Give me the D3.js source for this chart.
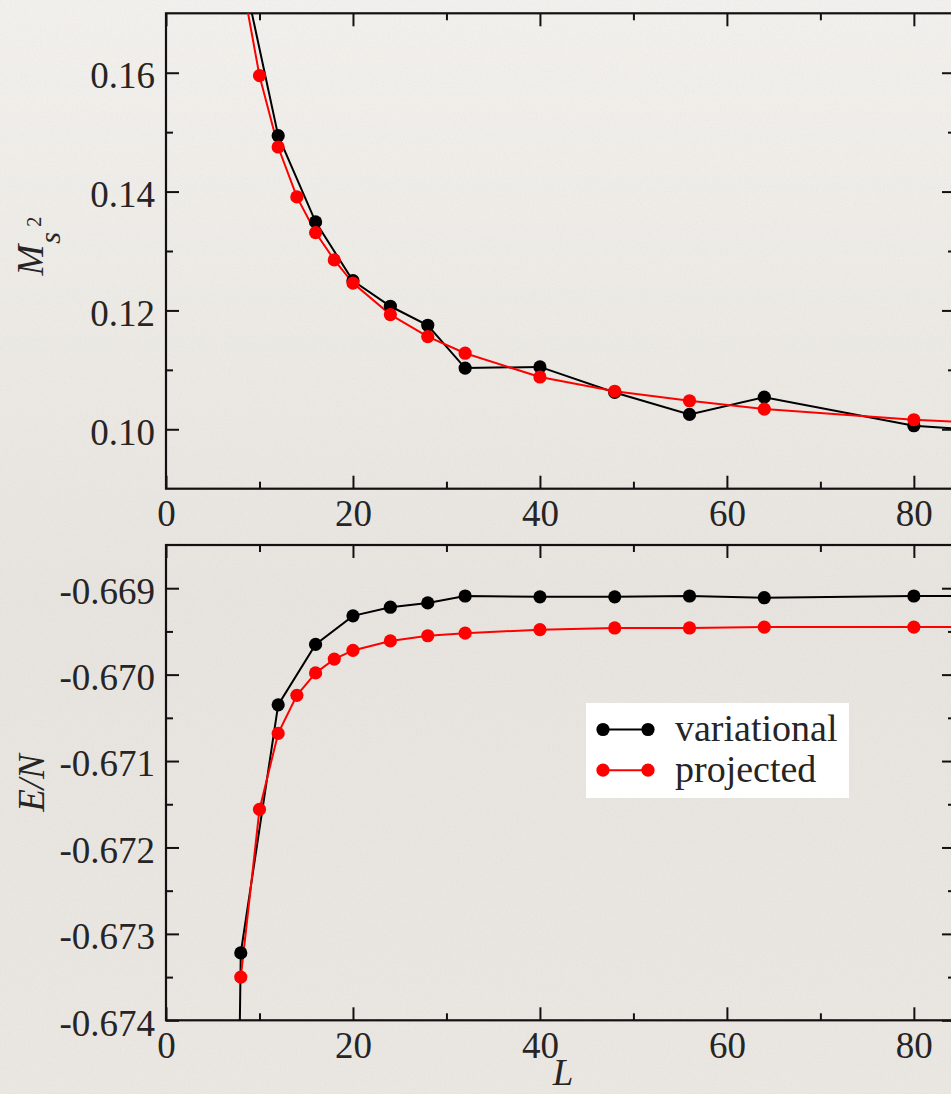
<!DOCTYPE html>
<html>
<head>
<meta charset="utf-8">
<script src="https://cdn.jsdelivr.net/npm/d3@7"></script>
<style>
  html, body { margin: 0; padding: 0; }
  body { width: 951px; height: 1094px; overflow: hidden; }
  svg { display: block; }
</style>
</head>
<body>
<svg id="chart" width="951" height="1094"></svg>
<script>
// Staggered magnetization squared vs. lattice size L
const msVarL   = [8, 12, 16, 20, 24, 28, 32, 40, 48, 56, 64, 80, 96];
const msVar    = [0.1787, 0.1494, 0.1349, 0.1250, 0.1207, 0.1175, 0.1103, 0.1105, 0.1062, 0.1025, 0.1054, 0.1006, 0.0988];
const msProjL  = [8, 10, 12, 14, 16, 18, 20, 24, 28, 32, 40, 48, 56, 64, 80, 96];
const msProj   = [0.1767, 0.1595, 0.1475, 0.1391, 0.1331, 0.1285, 0.1246, 0.1193, 0.1156, 0.1128, 0.1088, 0.1064, 0.1048, 0.1034, 0.1016, 0.1004];

// Energy per site vs. lattice size L
const eVarL    = [6, 8, 12, 16, 20, 24, 28, 32, 40, 48, 56, 64, 80, 96];
const eVar     = [-0.6890, -0.67322, -0.67035, -0.66965, -0.66932, -0.66922, -0.66917, -0.66909, -0.66910, -0.66910, -0.66909, -0.66911, -0.66909, -0.66909];
const eProjL   = [8, 10, 12, 14, 16, 18, 20, 24, 28, 32, 40, 48, 56, 64, 80, 96];
const eProj    = [-0.67350, -0.67156, -0.67068, -0.67024, -0.66998, -0.66982, -0.66972, -0.66961, -0.66955, -0.66952, -0.66948, -0.66946, -0.66946, -0.66945, -0.66945, -0.66944];

// Tick values
const xMajor    = [0, 20, 40, 60, 80];
const xMinor    = [10, 30, 50, 70];
const msMajor   = [0.10, 0.12, 0.14, 0.16];
const msMinor   = [0.11, 0.13, 0.15];
const eMajor    = [-0.674, -0.673, -0.672, -0.671, -0.670, -0.669];
const eMinor    = [-0.6735, -0.6725, -0.6715, -0.6705, -0.6695];

const seriesNames = ["variational", "projected"];
const seriesColors = ["#000000", "#ff0000"];

const FONT = "'Liberation Serif', 'Times New Roman', serif";
const TEXT = "#262424";
const FS = 37;

const svg = d3.select("#chart");

// paper background
const defs = svg.append("defs");
const grad = defs.append("linearGradient").attr("id", "paper")
  .attr("x1", 0).attr("y1", 0).attr("x2", 0).attr("y2", 1);
grad.append("stop").attr("offset", "0%").attr("stop-color", "#f2f0ec");
grad.append("stop").attr("offset", "55%").attr("stop-color", "#e7e4df");
grad.append("stop").attr("offset", "100%").attr("stop-color", "#eae7e2");
const grain = defs.append("filter").attr("id", "grain")
  .attr("x", 0).attr("y", 0).attr("width", "100%").attr("height", "100%");
grain.append("feTurbulence").attr("type", "fractalNoise")
  .attr("baseFrequency", "0.55").attr("numOctaves", 3).attr("seed", 4);
grain.append("feColorMatrix").attr("type", "matrix")
  .attr("values", "0 0 0 0 0.35  0 0 0 0 0.33  0 0 0 0 0.3  0 0 0 -1.4 0.75");
svg.append("rect").attr("width", 951).attr("height", 1094).attr("fill", "url(#paper)");
svg.append("rect").attr("width", 951).attr("height", 1094)
  .attr("filter", "url(#grain)").attr("opacity", 0.09);

const left = 166, right = 955;
const x = d3.scaleLinear().domain([0, 84.4]).range([left, right]);

function panel(cfg) {
  const { top, bottom, yDomain, yMajor, yMinor, yFmt, series, id, legend } = cfg;
  const y = d3.scaleLinear().domain(yDomain).range([bottom, top]);
  const g = svg.append("g");

  defs.append("clipPath").attr("id", id)
    .append("rect").attr("x", left).attr("y", top)
    .attr("width", right - left).attr("height", bottom - top);

  const styleAxis = sel => {
    sel.select(".domain").remove();
    sel.selectAll("line").attr("stroke", "#111").attr("stroke-width", 2);
    sel.selectAll("text").attr("font-family", FONT).attr("font-size", FS).attr("fill", TEXT);
  };

  // major / minor ticks on all four sides, pointing inward
  g.append("g").attr("transform", `translate(0,${bottom})`)
    .call(d3.axisBottom(x).tickValues(xMajor).tickSize(-13).tickPadding(11).tickFormat(d3.format("d")))
    .call(styleAxis);
  g.append("g").attr("transform", `translate(0,${bottom})`)
    .call(d3.axisBottom(x).tickValues(xMinor).tickSize(-7).tickFormat(""))
    .call(styleAxis);
  g.append("g").attr("transform", `translate(0,${top})`)
    .call(d3.axisTop(x).tickValues(xMajor).tickSize(-13).tickFormat(""))
    .call(styleAxis);
  g.append("g").attr("transform", `translate(0,${top})`)
    .call(d3.axisTop(x).tickValues(xMinor).tickSize(-7).tickFormat(""))
    .call(styleAxis);

  g.append("g").attr("transform", `translate(${left},0)`)
    .call(d3.axisLeft(y).tickValues(yMajor).tickSize(-13).tickPadding(11).tickFormat(yFmt))
    .call(styleAxis)
    .selectAll("text").attr("dy", "0.4em");
  g.append("g").attr("transform", `translate(${left},0)`)
    .call(d3.axisLeft(y).tickValues(yMinor).tickSize(-7).tickFormat(""))
    .call(styleAxis);
  g.append("g").attr("transform", `translate(${right},0)`)
    .call(d3.axisRight(y).tickValues(yMajor).tickSize(-13).tickFormat(""))
    .call(styleAxis);
  g.append("g").attr("transform", `translate(${right},0)`)
    .call(d3.axisRight(y).tickValues(yMinor).tickSize(-7).tickFormat(""))
    .call(styleAxis);

  // frame
  g.append("rect").attr("x", left).attr("y", top)
    .attr("width", right - left).attr("height", bottom - top)
    .attr("fill", "none").attr("stroke", "#111").attr("stroke-width", 2.2);

  // data
  const line = d3.line().x(d => x(d[0])).y(d => y(d[1]));
  const dg = g.append("g").attr("clip-path", `url(#${id})`);
  series.forEach((s, i) => {
    const pts = s.L.map((L, k) => [L, s.v[k]]);
    dg.append("path").datum(pts).attr("d", line)
      .attr("fill", "none").attr("stroke", seriesColors[i]).attr("stroke-width", 2);
  });
  series.forEach((s, i) => {
    const pts = s.L.map((L, k) => [L, s.v[k]]);
    dg.selectAll(null).data(pts).enter().append("circle")
      .attr("cx", d => x(d[0])).attr("cy", d => y(d[1])).attr("r", 6.6)
      .attr("fill", seriesColors[i]);
  });

  if (legend) {
    const lg = g.append("g");
    lg.append("rect").attr("x", 586).attr("y", 703).attr("width", 263).attr("height", 95)
      .attr("fill", "#ffffff");
    seriesNames.forEach((name, i) => {
      const ly = 729.5 + i * 40.7;
      lg.append("line").attr("x1", 603).attr("x2", 648).attr("y1", ly).attr("y2", ly)
        .attr("stroke", seriesColors[i]).attr("stroke-width", 2);
      [603, 648].forEach(cx => lg.append("circle").attr("cx", cx).attr("cy", ly)
        .attr("r", 6.6).attr("fill", seriesColors[i]));
      lg.append("text").attr("x", 675).attr("y", ly + 11.5)
        .attr("font-family", FONT).attr("font-size", FS + 1).attr("fill", TEXT).text(name);
    });
  }
  return y;
}

panel({
  id: "clipTop", top: 13.3, bottom: 488.7, yDomain: [0.09, 0.17],
  yMajor: msMajor, yMinor: msMinor, yFmt: d3.format(".2f"),
  series: [{ L: msVarL, v: msVar }, { L: msProjL, v: msProj }]
});

panel({
  id: "clipBottom", top: 545, bottom: 1020.3, yDomain: [-0.674, -0.6685],
  yMajor: eMajor, yMinor: eMinor, yFmt: d => d3.format(".3f")(d).replace("−", "-"),
  series: [{ L: eVarL, v: eVar }, { L: eProjL, v: eProj }],
  legend: true
});

// axis titles
const t1 = svg.append("text")
  .attr("transform", "translate(43,246) rotate(-90)")
  .attr("text-anchor", "middle")
  .attr("font-family", FONT).attr("font-size", FS).attr("fill", TEXT);
t1.append("tspan").attr("font-style", "italic").text("M");
t1.append("tspan").attr("font-style", "italic").attr("font-size", 30).attr("dy", 17).attr("dx", 1).text("s");
t1.append("tspan").attr("font-size", 21).attr("dy", -19).attr("dx", 5).text("2");

svg.append("text")
  .attr("transform", "translate(44,783) rotate(-90)")
  .attr("text-anchor", "middle")
  .attr("font-family", FONT).attr("font-size", FS).attr("font-style", "italic")
  .attr("fill", TEXT).text("E/N");

svg.append("text")
  .attr("x", 563).attr("y", 1085)
  .attr("text-anchor", "middle")
  .attr("font-family", FONT).attr("font-size", FS).attr("font-style", "italic")
  .attr("fill", TEXT).text("L");
</script>
</body>
</html>
